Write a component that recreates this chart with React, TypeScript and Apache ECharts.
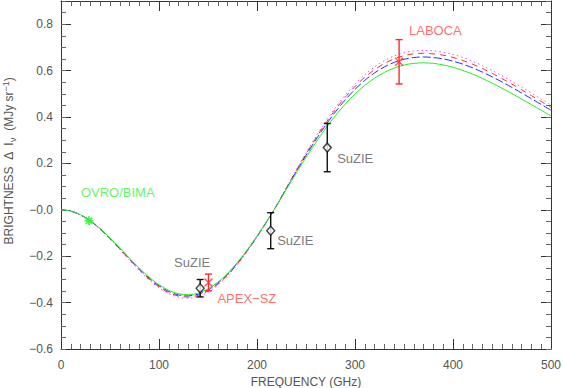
import React, { useEffect, useRef } from 'react';
import * as echarts from 'echarts';

const freq = [0, 10, 20, 30, 40, 50, 60, 70, 80, 90, 100, 110, 120, 130, 140, 150, 160, 170, 180, 190, 200, 210, 220, 230, 240, 250, 260, 270, 280, 290, 300, 310, 320, 330, 340, 350, 360, 370, 380, 390, 400, 410, 420, 430, 440, 450, 460, 470, 480, 490, 500];

const greenCurve = [0, -0.0055, -0.0216, -0.0474, -0.0812, -0.1211, -0.1645, -0.2091, -0.2519, -0.2907, -0.3232, -0.3475, -0.3620, -0.3660, -0.3590, -0.3408, -0.3122, -0.2738, -0.2268, -0.1727, -0.1130, -0.0492, 0.0177, 0.0881, 0.1578, 0.2255, 0.2900, 0.3503, 0.4057, 0.4554, 0.4990, 0.5365, 0.5675, 0.5923, 0.6110, 0.6239, 0.6312, 0.6334, 0.6311, 0.6245, 0.6143, 0.6008, 0.5847, 0.5662, 0.5458, 0.5240, 0.5011, 0.4774, 0.4533, 0.4291, 0.4048];
const blueCurve = [0, -0.0056, -0.0219, -0.0481, -0.0823, -0.1227, -0.1668, -0.2119, -0.2553, -0.2947, -0.3276, -0.3522, -0.3670, -0.3710, -0.3639, -0.3455, -0.3164, -0.2775, -0.2299, -0.1751, -0.1145, -0.0499, 0.0184, 0.0916, 0.1641, 0.2345, 0.3016, 0.3643, 0.4219, 0.4736, 0.5190, 0.5580, 0.5902, 0.6160, 0.6354, 0.6489, 0.6564, 0.6587, 0.6563, 0.6505, 0.6409, 0.6278, 0.6120, 0.5935, 0.5731, 0.5511, 0.5278, 0.5037, 0.4790, 0.4541, 0.4291];
const redCurve = [0, -0.0057, -0.0222, -0.0487, -0.0834, -0.1244, -0.1690, -0.2148, -0.2588, -0.2987, -0.3320, -0.3570, -0.3719, -0.3760, -0.3688, -0.3501, -0.3207, -0.2813, -0.2330, -0.1774, -0.1161, -0.0506, 0.0189, 0.0938, 0.1681, 0.2402, 0.3089, 0.3731, 0.4321, 0.4850, 0.5314, 0.5714, 0.6044, 0.6308, 0.6507, 0.6645, 0.6722, 0.6746, 0.6721, 0.6664, 0.6568, 0.6436, 0.6276, 0.6089, 0.5881, 0.5657, 0.5420, 0.5174, 0.4922, 0.4668, 0.4412];
const magentaCurve = [0, -0.0057, -0.0225, -0.0494, -0.0845, -0.1261, -0.1712, -0.2176, -0.2622, -0.3027, -0.3364, -0.3617, -0.3769, -0.3810, -0.3737, -0.3548, -0.3250, -0.2850, -0.2361, -0.1798, -0.1176, -0.0512, 0.0192, 0.0956, 0.1712, 0.2447, 0.3147, 0.3801, 0.4402, 0.4941, 0.5414, 0.5821, 0.6157, 0.6426, 0.6629, 0.6769, 0.6849, 0.6872, 0.6847, 0.6791, 0.6696, 0.6564, 0.6402, 0.6214, 0.6004, 0.5777, 0.5537, 0.5287, 0.5032, 0.4774, 0.4514];

const obsNames = ['OVRO/BIMA', 'SuZIE', 'APEX\u2212SZ', 'SuZIE', 'SuZIE', 'LABOCA'];
const obsFreq = [28.5, 142, 150.5, 214, 271.7, 345];
const obsValue = [-0.047, -0.338, -0.313, -0.09, 0.268, 0.638];
const obsError = [0, 0.0375, 0.036, 0.0776, 0.104, 0.0955];
const obsKind = ['star', 'diamond', 'cross', 'diamond', 'diamond', 'cross'];

const FONT = '"Liberation Sans", Arial, sans-serif';
const TXT = '#555';
const GREEN = '#22ee22';
const BLUE = '#2a2aff';
const RED = '#ff2a2a';
const MAGENTA = '#ff44ff';

const STAR = 'path://M5,0L5,10M0,5L10,5M1.5,1.5L8.5,8.5M1.5,8.5L8.5,1.5';
const CROSS = 'path://M0,0L10,10M0,10L10,0';

const labelOffsets = [[-13.4, -28], [-30.7, -25.5], [4.2, 15.9], [1.8, 10], [5.2, 10.7], [5.2, -31.1]];

function fmtY(v: number) {
  if (Math.abs(v - 0.9) < 1e-6) return '';
  if (Math.abs(v) < 1e-9) return '\u22120.0';
  if (v < 0) return '\u2212' + (-v).toFixed(1);
  return v.toFixed(1);
}

export default function App() {
  const ref = useRef<HTMLDivElement>(null);
  useEffect(() => {
    const chart = echarts.init(ref.current!, null, { renderer: 'svg' });
    const gridRect = { left: 61, right: 12, top: 1, bottom: 39, containLabel: false, outerBoundsMode: 'none' };

    const lineSeries = (data: number[], color: string, type: any, z: number) => ({
      type: 'line',
      xAxisIndex: 0,
      yAxisIndex: 0,
      data: freq.map((f, i) => [f, data[i]]),
      showSymbol: false,
      smooth: 0.3,
      lineStyle: { color, width: 1, type },
      z,
    });

    const errData = (key: string) =>
      obsFreq
        .map((f, i) => ({ f, i }))
        .filter(({ i }) => obsError[i] > 0 && ((obsKind[i] === 'cross') === (key === 'red')))
        .map(({ f, i }) => [f, obsValue[i] - obsError[i], obsValue[i] + obsError[i]]);

    const errSeries = (color: string, key: string) => ({
      type: 'custom',
      xAxisIndex: 0,
      yAxisIndex: 0,
      z: 5,
      data: errData(key),
      encode: { x: 0, y: [1, 2] },
      renderItem: (params: any, api: any) => {
        const x = api.value(0);
        const lo = api.value(1);
        const hi = api.value(2);
        const p1 = api.coord([x, hi]);
        const p2 = api.coord([x, lo]);
        const w = 3.5;
        const st = { stroke: color, lineWidth: 1.4 };
        return {
          type: 'group',
          children: [
            { type: 'line', shape: { x1: p1[0], y1: p1[1], x2: p2[0], y2: p2[1] }, style: st },
            { type: 'line', shape: { x1: p1[0] - w, y1: p1[1], x2: p1[0] + w, y2: p1[1] }, style: st },
            { type: 'line', shape: { x1: p2[0] - w, y1: p2[1], x2: p2[0] + w, y2: p2[1] }, style: st },
          ],
        };
      },
    });

    const pointData = obsFreq.map((f, i) => {
      const kind = obsKind[i];
      const color = kind === 'star' ? GREEN : kind === 'cross' ? RED : '#111';
      const labelColor = kind === 'star' ? '#3cf03c' : kind === 'cross' ? '#ff4a4a' : '#555';
      return {
        name: obsNames[i],
        value: [f, obsValue[i]],
        symbol: kind === 'star' ? STAR : kind === 'cross' ? CROSS : 'diamond',
        symbolSize: kind === 'star' ? 9 : kind === 'cross' ? 8 : [8, 9],
        itemStyle: {
          color: kind === 'diamond' ? '#fff' : 'rgba(0,0,0,0)',
          borderColor: color,
          borderWidth: kind === 'star' ? 1.8 : 1.4,
        },
        label: {
          show: true,
          position: 'right',
          distance: 0,
          offset: labelOffsets[i],
          formatter: '{b}',
          color: labelColor,
          fontFamily: FONT,
          fontSize: 13,
        },
      };
    });

    const majorTick = (len: number) => ({ show: true, inside: true, length: len, lineStyle: { color: '#333', width: 1 } });

    chart.setOption({
      animation: false,
      backgroundColor: '#fff',
      grid: [{ ...gridRect }, { ...gridRect }],
      xAxis: [
        {
          type: 'value', gridIndex: 0, position: 'bottom', min: 0, max: 500, interval: 100,
          axisLine: { show: true, onZero: false, lineStyle: { color: '#333', width: 1 } },
          axisTick: majorTick(10),
          minorTick: { show: true, splitNumber: 10, length: 5, lineStyle: { color: '#666', width: 1 } },
          splitLine: { show: false },
          axisLabel: { color: TXT, fontFamily: FONT, fontSize: 12, margin: 10 },
          name: 'FREQUENCY (GHz)', nameLocation: 'middle', nameGap: 25,
          nameTextStyle: { color: TXT, fontFamily: FONT, fontSize: 12 },
        },
        {
          type: 'value', gridIndex: 0, position: 'top', min: 0, max: 500, interval: 100,
          axisLine: { show: true, onZero: false, lineStyle: { color: '#333', width: 1 } },
          axisTick: majorTick(10),
          minorTick: { show: true, splitNumber: 10, length: 5, lineStyle: { color: '#666', width: 1 } },
          splitLine: { show: false },
          axisLabel: { show: false },
        },
        { type: 'value', gridIndex: 1, min: 0, max: 500, show: false },
      ],
      yAxis: [
        {
          type: 'value', gridIndex: 0, position: 'left', min: -0.6, max: 0.9, interval: 0.2,
          axisLine: { show: true, onZero: false, lineStyle: { color: '#333', width: 1 } },
          axisTick: majorTick(10),
          splitLine: { show: false },
          axisLabel: { color: TXT, fontFamily: FONT, fontSize: 12, margin: 8, formatter: fmtY, showMaxLabel: false },
        },
        {
          type: 'value', gridIndex: 0, position: 'right', min: -0.6, max: 0.9, interval: 0.2,
          axisLine: { show: true, onZero: false, lineStyle: { color: '#333', width: 1 } },
          axisTick: majorTick(10),
          splitLine: { show: false },
          axisLabel: { show: false },
        },
        {
          type: 'value', gridIndex: 1, position: 'left', min: -0.6, max: 0.9, interval: 0.05,
          axisLine: { show: false },
          axisTick: { show: true, inside: true, length: 5, lineStyle: { color: '#666', width: 1 } },
          splitLine: { show: false },
          axisLabel: { show: false },
        },
        {
          type: 'value', gridIndex: 1, position: 'right', min: -0.6, max: 0.9, interval: 0.05,
          axisLine: { show: false },
          axisTick: { show: true, inside: true, length: 5, lineStyle: { color: '#666', width: 1 } },
          splitLine: { show: false },
          axisLabel: { show: false },
        },
      ],
      graphic: [
        {
          type: 'text',
          x: 9,
          y: 161,
          rotation: Math.PI / 2,
          style: {
            text: '{a|BRIGHTNESS  \u0394  I}{s|\u03bd}{a|  (MJy sr}{p|\u22121}{a|)}',
            align: 'center',
            verticalAlign: 'middle',
            rich: {
              a: { fontFamily: FONT, fontSize: 12, fill: TXT, color: TXT, lineHeight: 16, verticalAlign: 'middle' },
              s: { fontFamily: FONT, fontSize: 9, fill: TXT, color: TXT, lineHeight: 16, verticalAlign: 'bottom' },
              p: { fontFamily: FONT, fontSize: 9, fill: TXT, color: TXT, lineHeight: 16, verticalAlign: 'top' },
            },
          },
        },
      ],
      series: [
        lineSeries(magentaCurve, MAGENTA, [1.5, 3], 2),
        lineSeries(redCurve, RED, [6, 5], 2),
        lineSeries(blueCurve, BLUE, [8, 3], 2),
        lineSeries(greenCurve, GREEN, 'solid', 3),
        errSeries('#111', 'black'),
        errSeries(RED, 'red'),
        {
          type: 'scatter',
          xAxisIndex: 0,
          yAxisIndex: 0,
          z: 6,
          data: pointData,
        },
      ],
    });
    return () => chart.dispose();
  }, []);
  return <div ref={ref} style={{ position: 'fixed', left: 0, top: 0, width: 563, height: 388 }} />;
}
